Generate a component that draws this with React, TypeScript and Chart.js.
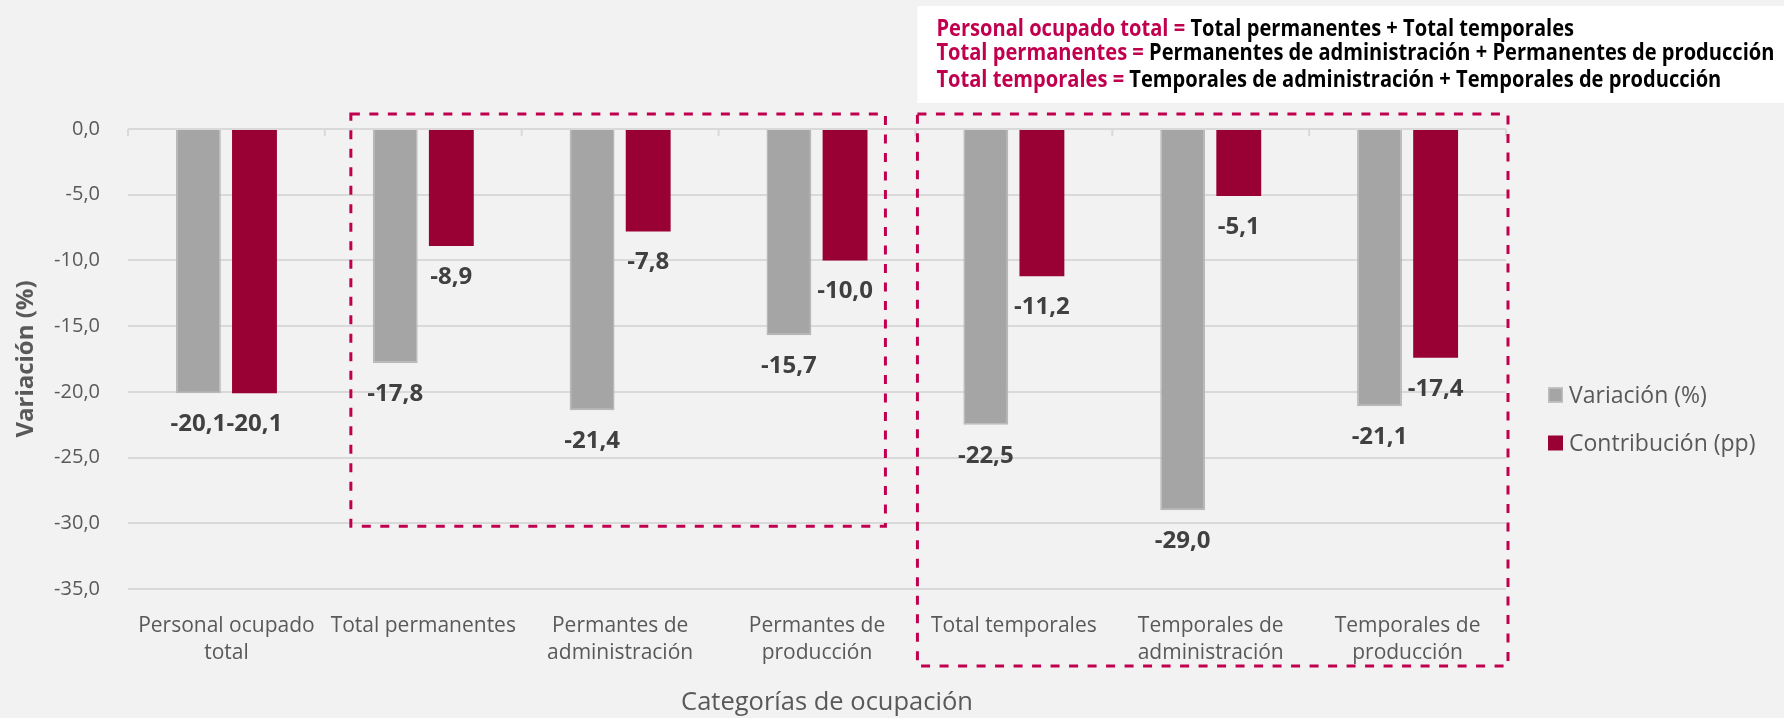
import React, { useEffect, useRef } from 'react';
import { Chart, registerables } from 'chart.js';

Chart.register(...registerables);

// ---------- data ----------
const categories: (string | string[])[] = [
  ['Personal ocupado', 'total'],
  'Total permanentes',
  ['Permantes de', 'administración'],
  ['Permantes de', 'producción'],
  'Total temporales',
  ['Temporales de', 'administración'],
  ['Temporales de', 'producción'],
];
const variacion = [-20.1, -17.8, -21.4, -15.7, -22.5, -29.0, -21.1];
const contribucion = [-20.1, -8.9, -7.8, -10.0, -11.2, -5.1, -17.4];
const seriesNames = ['Variación (%)', 'Contribución (pp)'];
const yMin = -35;
const yMax = 0;
const yStep = 5;
const yTitle = 'Variación (%)';
const xTitle = 'Categorías de ocupación';
const formulaLines: [string, string][][] = [
  [['Personal ocupado total = ', 'accent'], ['Total permanentes + Total temporales', 'dark']],
  [['Total permanentes = ', 'accent'], ['Permanentes de administración + Permanentes de producción', 'dark']],
  [['Total temporales = ', 'accent'], ['Temporales de administración + Temporales de producción', 'dark']],
];

// ---------- styles ----------
const GRAY = '#A5A5A5';
const RED = '#990033';
const ACCENT = '#C0004F';
const TEXT = '#595959';
const FONT = '"Open Sans", "Noto Sans", sans-serif';
const LABEL_GAP = 31;

const fmt = (v: number) => v.toFixed(1).replace('.', ',');

const overlayPlugin = {
  id: 'overlay',
  afterDatasetsDraw(chart: any) {
    const ctx = chart.ctx;
    ctx.save();
    ctx.font = `bold 24px ${FONT}`;
    ctx.fillStyle = '#404040';
    ctx.textAlign = 'center';
    ctx.textBaseline = 'middle';
    chart.data.datasets.forEach((ds: any, di: number) => {
      const meta = chart.getDatasetMeta(di);
      meta.data.forEach((bar: any, i: number) => {
        ctx.fillText(fmt(ds.data[i]), bar.x, bar.y + LABEL_GAP);
      });
    });
    ctx.restore();
  },
  afterDraw(chart: any) {
    const ctx = chart.ctx;
    const ys = chart.scales.y;
    const area = chart.chartArea;
    const catW = (area.right - area.left) / categories.length;
    const boundary = (i: number) => area.left + i * catW;
    const y0 = ys.getPixelForValue(0);

    // category boundary tick marks on the zero line
    ctx.save();
    ctx.strokeStyle = '#D9D9D9';
    ctx.lineWidth = 2;
    for (let i = 0; i <= categories.length; i++) {
      const bx = boundary(i);
      ctx.beginPath();
      ctx.moveTo(bx, y0);
      ctx.lineTo(bx, y0 + 7);
      ctx.stroke();
    }
    ctx.restore();

    // x axis title
    ctx.save();
    ctx.font = `25.5px ${FONT}`;
    ctx.fillStyle = TEXT;
    ctx.textAlign = 'center';
    ctx.textBaseline = 'middle';
    ctx.fillText(xTitle, (area.left + area.right) / 2 + 10, chart.height - 15);
    ctx.restore();

    // dashed group boxes
    ctx.save();
    ctx.strokeStyle = ACCENT;
    ctx.lineWidth = 3;
    ctx.setLineDash([9, 9.5]);
    const top = y0 - 15;
    const b1l = boundary(1) + 26;
    const b1r = boundary(4) - 30;
    const b1b = ys.getPixelForValue(-30) + 3;
    ctx.strokeRect(b1l, top, b1r - b1l, b1b - top);
    const b2l = boundary(4) + 2;
    const b2r = boundary(7) + 2;
    const b2b = ys.getPixelForValue(yMin) + 77;
    ctx.strokeRect(b2l, top, b2r - b2l, b2b - top);
    ctx.restore();

    // legend
    ctx.save();
    const lx = area.right + 42;
    const legendYs = [395, 443];
    const colors = [GRAY, RED];
    ctx.font = `23px ${FONT}`;
    ctx.textBaseline = 'middle';
    ctx.textAlign = 'left';
    seriesNames.forEach((name, i) => {
      const cy = legendYs[i];
      ctx.fillStyle = colors[i];
      ctx.fillRect(lx, cy - 7.5, 15, 15);
      if (i === 0) {
        ctx.strokeStyle = '#BDBDBD';
        ctx.lineWidth = 1.5;
        ctx.strokeRect(lx + 0.75, cy - 6.75, 13.5, 13.5);
      }
      ctx.fillStyle = TEXT;
      ctx.fillText(name, lx + 21, cy + 1);
    });
    ctx.restore();

    // formula box
    ctx.save();
    const fx = b2l;
    ctx.fillStyle = '#FFFFFF';
    ctx.fillRect(fx, 6, chart.width - fx, 97);
    ctx.font = `bold 23px ${FONT}`;
    ctx.textBaseline = 'middle';
    ctx.textAlign = 'left';
    const line2W = formulaLines[1].reduce((s, [t]) => s + ctx.measureText(t).width, 0);
    const sx = 838 / line2W;
    const lineYs = [29.5, 53.5, 80];
    formulaLines.forEach((parts, li) => {
      ctx.save();
      ctx.translate(fx + 19, lineYs[li]);
      ctx.scale(sx, 1);
      let cx = 0;
      parts.forEach(([t, c]) => {
        ctx.fillStyle = c === 'accent' ? ACCENT : '#000000';
        ctx.fillText(t, cx, 0);
        cx += ctx.measureText(t).width;
      });
      ctx.restore();
    });
    ctx.restore();
  },
};

export default function App() {
  const canvasRef = useRef<HTMLCanvasElement | null>(null);

  useEffect(() => {
    document.body.style.margin = '0';
    document.body.style.background = '#F2F2F2';
    const canvas = canvasRef.current;
    if (!canvas) return;
    const chart = new Chart(canvas, {
      type: 'bar',
      data: {
        labels: categories as any,
        datasets: [
          {
            label: seriesNames[0],
            data: variacion,
            backgroundColor: GRAY,
            borderColor: '#B8B8B8',
            borderWidth: 1.5,
          },
          {
            label: seriesNames[1],
            data: contribucion,
            backgroundColor: RED,
            borderWidth: 0,
          },
        ],
      },
      options: {
        responsive: false,
        animation: false,
        devicePixelRatio: 1,
        layout: { padding: { top: 129, right: 278, left: 0, bottom: 0 } },
        datasets: {
          bar: { categoryPercentage: 0.57, barPercentage: 0.8 },
        },
        plugins: {
          legend: { display: false },
          tooltip: { enabled: false },
        },
        scales: {
          x: {
            grid: { display: false },
            border: { display: false },
            ticks: {
              color: TEXT,
              font: { family: FONT, size: 21, lineHeight: 1.3 },
              padding: 15,
              maxRotation: 0,
              autoSkip: false,
            },
            title: { display: false },
            afterFit: (s: any) => {
              s.height = 129;
            },
          },
          y: {
            min: yMin,
            max: yMax,
            grid: { color: '#D9D9D9', lineWidth: 2, drawTicks: false },
            border: { display: false },
            ticks: {
              stepSize: yStep,
              color: TEXT,
              font: { family: FONT, size: 20 },
              padding: 28,
              callback: (v: any) => fmt(Number(v)),
            },
            title: {
              display: true,
              text: yTitle,
              color: TEXT,
              font: { family: FONT, size: 24, weight: 'bold' },
              padding: { top: 12, bottom: 0 },
            },
            afterFit: (s: any) => {
              s.width = 128;
            },
          },
        },
      } as any,
      plugins: [overlayPlugin],
    });
    return () => chart.destroy();
  }, []);

  return (
    <div style={{ position: 'fixed', left: 0, top: 0, width: 1784, height: 718, background: '#F2F2F2' }}>
      <canvas ref={canvasRef} width={1784} height={718} style={{ width: 1784, height: 718, display: 'block' }} />
    </div>
  );
}
